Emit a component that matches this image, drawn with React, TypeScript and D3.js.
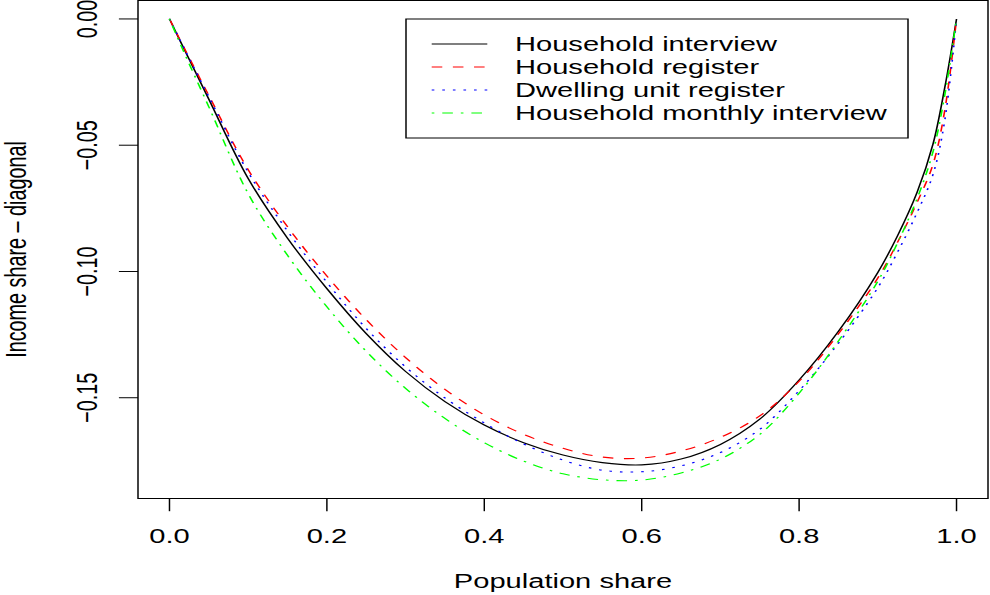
import React from 'react';
import * as d3 from 'd3';

// population share grid the curves were read on
const populationShare = [0, 0.02, 0.05, 0.1, 0.15, 0.2, 0.25, 0.3, 0.35, 0.4, 0.45, 0.5, 0.55, 0.6, 0.65, 0.7, 0.75, 0.8, 0.85, 0.9, 0.925, 0.95, 0.97, 0.985, 1];

// income share minus diagonal, one array per survey
const householdInterview = [0, -0.0128, -0.0318, -0.0632, -0.0868, -0.1068, -0.1246, -0.1396, -0.1515, -0.1608, -0.1678, -0.1727, -0.1757, -0.1766, -0.1743, -0.1685, -0.1585, -0.143, -0.1237, -0.1004, -0.0859, -0.0686, -0.0497, -0.0273, 0];
const householdRegister = [0, -0.0123, -0.0303, -0.0597, -0.0823, -0.1018, -0.1191, -0.1341, -0.1467, -0.1568, -0.1645, -0.17, -0.1735, -0.1739, -0.1711, -0.1657, -0.1572, -0.1435, -0.1247, -0.1026, -0.0885, -0.0726, -0.0577, -0.0363, 0];
const dwellingUnitRegister = [0, -0.0125, -0.0308, -0.0607, -0.084, -0.1043, -0.1226, -0.1378, -0.1501, -0.16, -0.1683, -0.1747, -0.1787, -0.1793, -0.177, -0.1717, -0.1625, -0.1472, -0.1284, -0.1064, -0.0924, -0.0766, -0.0617, -0.0403, 0];
const householdMonthlyInterview = [0, -0.0143, -0.0348, -0.0692, -0.0936, -0.114, -0.1316, -0.1463, -0.1582, -0.1678, -0.1751, -0.1801, -0.1825, -0.1826, -0.1798, -0.1743, -0.1645, -0.1482, -0.1275, -0.1039, -0.0887, -0.0711, -0.0527, -0.0303, 0];

const seriesNames = ['Household interview', 'Household register', 'Dwelling unit register', 'Household monthly interview'];
const xTicks = [0, 0.2, 0.4, 0.6, 0.8, 1];
const yTicks = [0, -0.05, -0.1, -0.15];

// the reference is an R plot stretched sideways, so draw narrow and stretch the svg
const K = 1.47;
const W = 990 / K;
const H = 595;
const FONT = '"Liberation Sans", Arial, Helvetica, sans-serif';
const FS = 19.8;

const styles = [
  { color: '#000000', dash: null },
  { color: '#ff0000', dash: '7.2,7.2' },
  { color: '#0000ff', dash: '1.8,5.4' },
  { color: '#00ff00', dash: '1.8,5.4,7.2,5.4' },
];

export default function App() {
  const all = [householdInterview, householdRegister, dwellingUnitRegister, householdMonthlyInterview];
  const left = 138 / K;
  const right = 988 / K;
  const top = 0.5;
  const bottom = 498.5;

  // R style 4% padding on both axes
  const xr = d3.extent(populationShare) as [number, number];
  const xpad = (xr[1] - xr[0]) * 0.04;
  const x = d3.scaleLinear().domain([xr[0] - xpad, xr[1] + xpad]).range([left, right]);
  const yr = d3.extent(all.flat()) as [number, number];
  const ypad = (yr[1] - yr[0]) * 0.04;
  const y = d3.scaleLinear().domain([yr[0] - ypad, yr[1] + ypad]).range([bottom, top]);

  const line = d3.line<number>()
    .x((d, i) => x(populationShare[i]))
    .y(d => y(d))
    .curve(d3.curveCatmullRom.alpha(0.5));

  const tick = 12.7;
  const fx = d3.format('.1f');
  const fy = d3.format('.2f');

  const lg = { x0: 406 / K, x1: 908 / K, y0: 19, y1: 138 };
  const rowY = (i: number) => 44 + i * 23;

  return (
    <svg width={990} height={H} viewBox={`0 0 ${W} ${H}`} preserveAspectRatio="none"
      style={{ position: 'absolute', left: 0, top: 0, display: 'block', background: '#fff' }}
      fontFamily={FONT} fontSize={FS}>
      <rect x={0} y={0} width={W} height={H} fill="#fff" />

      {all.map((s, i) => (
        <path key={i} d={line(s) || ''} fill="none" stroke={styles[i].color} strokeWidth={1.1}
          strokeDasharray={styles[i].dash || undefined} />
      ))}

      <rect x={left} y={top} width={right - left} height={bottom - top} fill="none" stroke="#000" strokeWidth={1} />

      {/* x axis */}
      <line x1={x(xTicks[0])} x2={x(xTicks[xTicks.length - 1])} y1={bottom} y2={bottom} stroke="#000" />
      {xTicks.map(t => (
        <g key={t}>
          <line x1={x(t)} x2={x(t)} y1={bottom} y2={bottom + tick} stroke="#000" />
          <text x={x(t)} y={542.7} textAnchor="middle" fill="#000">{fx(t)}</text>
        </g>
      ))}
      <text x={(left + right) / 2} y={588} textAnchor="middle" fill="#000">Population share</text>

      {/* y axis */}
      {yTicks.map(t => (
        <g key={t}>
          <line x1={left - 13} x2={left} y1={y(t)} y2={y(t)} stroke="#000" />
          <text transform={`translate(66,${y(t)}) rotate(-90)`} textAnchor="middle" fill="#000">{fy(t)}</text>
        </g>
      ))}
      <text transform={`translate(18,${(top + bottom) / 2}) rotate(-90)`} textAnchor="middle" fill="#000">
        Income share – diagonal
      </text>

      {/* legend */}
      <rect x={lg.x0} y={lg.y0} width={lg.x1 - lg.x0} height={lg.y1 - lg.y0} fill="#fff" stroke="#000" strokeWidth={1} />
      {seriesNames.map((name, i) => (
        <g key={name}>
          <line x1={431.7 / K} x2={487.3 / K} y1={rowY(i)} y2={rowY(i)} stroke={styles[i].color} strokeWidth={1.1}
            strokeDasharray={styles[i].dash || undefined} />
          <text x={515 / K} y={rowY(i) + 7} fill="#000">{name}</text>
        </g>
      ))}
    </svg>
  );
}
